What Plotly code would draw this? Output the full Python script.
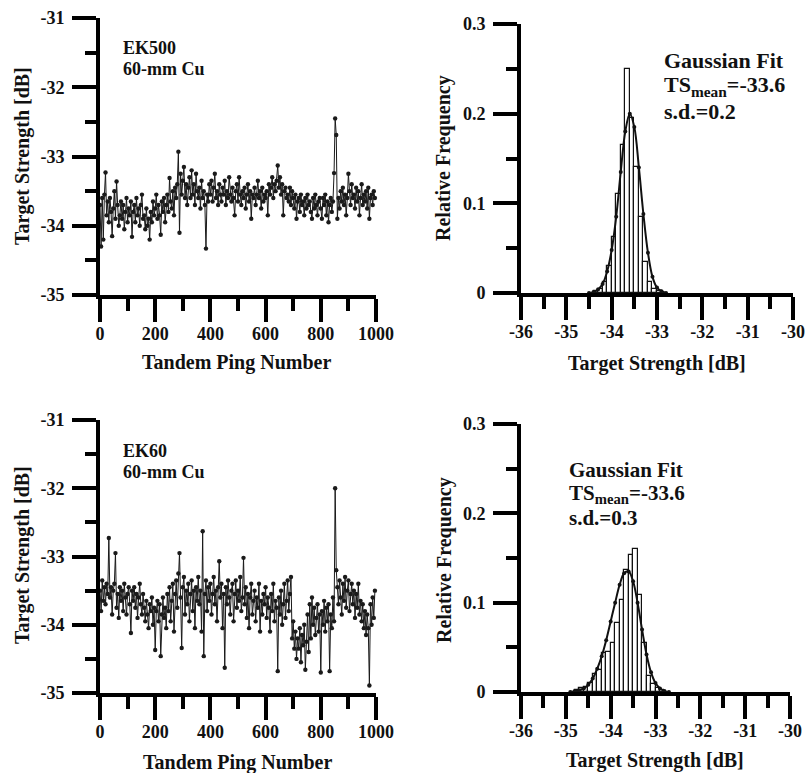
import plotly.graph_objects as go

# ---------------- data ----------------
ping = list(range(0, 1000, 4))

ek500_ts = [
    -33.70, -34.30, -33.60, -34.20, -33.55, -33.23, -33.85, -33.65, -33.95, -33.60,
    -33.80, -34.15, -33.75, -33.50, -33.90, -33.36, -33.70, -34.00, -33.85, -33.65,
    -33.90, -33.70, -34.05, -33.80, -33.60, -33.95, -33.75, -33.85, -33.65, -34.16,
    -33.80, -33.70, -33.95, -33.60, -33.85, -33.75, -34.00, -33.70, -33.55, -33.90,
    -33.85, -34.05, -33.75, -34.00, -33.90, -34.20, -33.80, -33.95, -33.65, -33.85,
    -33.75, -33.55, -33.90, -33.70, -33.85, -34.13, -33.65, -33.80, -33.60, -33.95,
    -33.70, -33.55, -33.80, -33.31, -33.65, -33.75, -33.50, -33.85, -33.45, -33.60,
    -33.40, -32.93, -34.10, -33.25, -33.55, -33.35, -33.15, -33.60, -33.40, -33.70,
    -33.45, -33.30, -33.60, -33.20, -33.55, -33.40, -33.70, -33.25, -33.50, -33.60,
    -33.45, -33.75, -33.35, -33.60, -33.50, -33.70, -34.33, -33.55, -33.65, -33.40,
    -33.55, -33.35, -33.65, -33.45, -33.25, -33.60, -33.50, -33.70, -33.40, -33.55,
    -33.65, -33.45, -33.55, -33.35, -33.70, -33.50, -33.60, -33.30, -33.55, -33.65,
    -33.45, -33.60, -33.85, -33.50, -33.40, -33.65, -33.30, -33.55, -33.70, -33.50,
    -33.60, -33.45, -33.75, -33.55, -33.40, -33.65, -33.50, -33.90, -33.55, -33.60,
    -33.45, -33.70, -33.55, -33.35, -33.60, -33.50, -33.75, -33.45, -33.65, -33.55,
    -33.60, -33.50, -33.85, -33.40, -33.55, -33.45, -33.30, -33.60, -33.40, -33.50,
    -33.35, -33.13, -33.45, -33.30, -33.55, -33.40, -33.85, -33.50, -33.45, -33.60,
    -33.55, -33.65, -33.45, -33.70, -33.50, -33.60, -33.75, -33.55, -33.90, -33.65,
    -33.60, -33.80, -33.55, -33.70, -33.65, -33.85, -33.60, -33.75, -33.55, -33.70,
    -33.65, -33.80, -33.90, -33.60, -33.75, -33.55, -33.70, -33.85, -33.65, -33.60,
    -33.75, -33.90, -33.60, -33.70, -33.55, -33.85, -33.65, -33.95, -33.70, -33.60,
    -33.80, -33.65, -33.24, -32.45, -32.69, -33.90, -33.60, -33.75, -33.50, -33.65,
    -33.45, -33.70, -33.55, -33.85, -33.60, -33.25, -33.50, -33.70, -33.40, -33.60,
    -33.55, -33.75, -33.45, -33.65, -33.50, -33.85, -33.60, -33.40, -33.70, -33.55,
    -33.65, -33.50, -33.75, -33.45, -33.90, -33.60, -33.55, -33.70, -33.50, -33.60,
]

ek60_ts = [
    -33.50, -33.80, -33.35, -33.65, -33.45, -33.70, -33.40, -33.55, -32.73, -33.60,
    -33.45, -33.85, -33.50, -33.40, -32.95, -33.75, -33.55, -33.90, -33.45, -33.65,
    -33.50, -33.80, -33.40, -33.60, -33.85, -33.55, -33.45, -33.70, -34.12, -33.50,
    -33.65, -33.45, -33.75, -33.55, -33.90, -33.60, -33.40, -33.70, -33.85, -33.55,
    -33.75, -33.95, -33.65, -33.85, -34.05, -33.70, -33.80, -33.60, -34.00, -33.75,
    -34.37, -33.80, -33.65, -33.95, -33.70, -34.46, -33.85, -33.60, -33.90, -33.75,
    -34.05, -33.55, -33.80, -33.45, -33.95, -33.65, -33.40, -34.10, -33.55, -33.35,
    -33.75, -33.25, -32.95, -33.60, -34.34, -33.45, -33.30, -33.85, -33.50, -33.70,
    -33.40, -33.95, -33.55, -33.35, -33.80, -33.50, -34.05, -33.45, -33.65, -33.30,
    -33.70, -33.50, -34.10, -32.63, -34.46, -33.55, -33.35, -33.80, -33.45, -33.65,
    -33.40, -33.85, -33.55, -33.30, -33.70, -33.50, -33.95, -33.45, -33.07, -33.60,
    -33.40, -34.05, -33.55, -34.63, -33.45, -33.70, -33.35, -33.60, -33.85, -33.50,
    -33.40, -33.95, -33.55, -33.35, -33.75, -33.50, -33.65, -33.30, -33.80, -33.60,
    -33.02, -33.70, -33.45, -33.90, -33.55, -34.05, -33.60, -33.40, -33.85, -33.65,
    -33.50, -33.95, -33.60, -33.75, -33.40, -34.10, -33.65, -33.85, -33.55, -33.70,
    -33.45, -33.90, -33.60, -33.75, -34.10, -33.55, -33.80, -33.40, -33.95, -33.65,
    -33.75, -34.68, -33.60, -33.85, -33.50, -34.00, -33.70, -33.40, -33.90, -33.65,
    -33.35, -33.80, -33.55, -33.30, -34.20, -33.95, -34.35, -34.10, -34.50, -34.20,
    -34.35, -34.05, -34.55, -34.15, -34.30, -34.00, -34.66, -34.25, -33.85, -34.40,
    -33.70, -34.20, -33.60, -34.00, -33.75, -34.15, -33.90, -33.70, -34.10, -33.85,
    -34.70, -33.80, -34.00, -33.65, -34.10, -33.75, -33.95, -33.70, -34.68, -33.85,
    -34.05, -33.60, -33.95, -32.00, -33.20, -33.45, -33.70, -33.35, -33.60, -33.85,
    -33.40, -33.65, -33.30, -33.75, -33.50, -33.35, -33.80, -33.55, -33.40, -33.70,
    -33.50, -33.90, -33.55, -33.75, -33.40, -33.85, -33.65, -33.95, -33.70, -34.05,
    -33.80, -34.15, -33.85, -34.05, -34.89, -33.70, -34.00, -33.60, -33.90, -33.50,
]

bins500 = [-34.35, -34.25, -34.15, -34.05, -33.95, -33.85, -33.75, -33.65,
           -33.55, -33.45, -33.35, -33.25, -33.15, -33.05, -32.95]
freq500 = [0.002, 0.005, 0.012, 0.030, 0.062, 0.110, 0.165, 0.250,
           0.195, 0.140, 0.085, 0.035, 0.012, 0.005, 0.002]
fitx500 = [-34.5, -34.4, -34.3, -34.2, -34.1, -34.0, -33.9, -33.8, -33.7,
           -33.6, -33.5, -33.4, -33.3, -33.2, -33.1, -33.0, -32.9, -32.8]
fity500 = [0.000, 0.001, 0.004, 0.010, 0.024, 0.048, 0.085, 0.135, 0.180,
           0.200, 0.185, 0.140, 0.088, 0.045, 0.018, 0.006, 0.002, 0.000]

bins60 = [-34.75, -34.65, -34.55, -34.45, -34.35, -34.25, -34.15, -34.05, -33.95, -33.85,
          -33.75, -33.65, -33.55, -33.45, -33.35, -33.25, -33.15, -33.05, -32.95, -32.85]
freq60 = [0.002, 0.004, 0.006, 0.010, 0.020, 0.025, 0.044, 0.045, 0.055, 0.077,
          0.103, 0.137, 0.153, 0.160, 0.109, 0.055, 0.018, 0.009, 0.004, 0.002]
fitx60 = [-34.9, -34.8, -34.7, -34.6, -34.5, -34.4, -34.3, -34.2, -34.1, -34.0, -33.9,
          -33.8, -33.7, -33.6, -33.5, -33.4, -33.3, -33.2, -33.1, -33.0, -32.9, -32.8, -32.7]
fity60 = [0.000, 0.001, 0.002, 0.004, 0.008, 0.015, 0.026, 0.040, 0.058, 0.079, 0.100,
          0.120, 0.133, 0.135, 0.124, 0.100, 0.070, 0.042, 0.022, 0.010, 0.004, 0.001, 0.000]

ts_ticks = [-35, -34, -33, -32, -31]
ts_ticktext = ["-35", "-34", "-33", "-32", "-31"]
ts_minor = [-34.5, -33.5, -32.5, -31.5]
ping_ticks = [0, 200, 400, 600, 800, 1000]
ping_minor = [100, 300, 500, 700, 900]
hx_ticks = [-36, -35, -34, -33, -32, -31, -30]
hx_ticktext = ["-36", "-35", "-34", "-33", "-32", "-31", "-30"]
hx_minor = [-35.5, -34.5, -33.5, -32.5, -31.5, -30.5]
hy_ticks = [0, 0.1, 0.2, 0.3]
hy_ticktext = ["0", "0.1", "0.2", "0.3"]
hy_minor = [0.05, 0.15, 0.25]

# ---------------- figure ----------------
W, H = 805, 773
FONT = "Liberation Serif"
INK = "#000000"

def fx(px):
    return px / W

def fy(py):
    return 1 - py / H

fig = go.Figure()

# time series
for xs, ys, xa, ya in [(ping, ek500_ts, "x", "y"), (ping, ek60_ts, "x3", "y3")]:
    fig.add_trace(go.Scatter(x=xs, y=ys, mode="lines+markers", xaxis=xa, yaxis=ya,
                             line=dict(color="#1a1a1a", width=1),
                             marker=dict(size=4.4, color="#1a1a1a"), cliponaxis=False))

# histograms
for bins, freq, fxs, fys, xa, ya in [(bins500, freq500, fitx500, fity500, "x2", "y2"),
                                     (bins60, freq60, fitx60, fity60, "x4", "y4")]:
    fig.add_trace(go.Bar(x=bins, y=freq, width=0.1, xaxis=xa, yaxis=ya,
                         marker=dict(color="white", line=dict(color="#111111", width=1.2))))
    fig.add_trace(go.Scatter(x=fxs, y=fys, mode="lines+markers", xaxis=xa, yaxis=ya,
                             line=dict(color="#111111", width=2, shape="spline"),
                             marker=dict(size=4, color="#111111")))

tickfont = dict(family=FONT, size=18, color="#111111", weight="bold")

def axis(domain, rng, tv, tt, minor, anchor, major_len=23, minor_len=11, standoff=5):
    return dict(domain=domain, range=rng, anchor=anchor, showline=True, linewidth=4,
                linecolor=INK, ticks="outside", ticklen=major_len, tickwidth=4,
                tickcolor=INK, tickmode="array", tickvals=tv, ticktext=tt,
                tickfont=tickfont, showgrid=False, zeroline=False, fixedrange=True,
                automargin=False, layer="above traces",
                minor=dict(tickmode="array", tickvals=minor, ticks="outside",
                           ticklen=minor_len, tickwidth=4, tickcolor=INK, showgrid=False),
                ticklabelstandoff=standoff)

layout = dict(
    template="none",
    width=W, height=H, margin=dict(l=0, r=0, t=0, b=0, autoexpand=False),
    paper_bgcolor="white", plot_bgcolor="white", showlegend=False,
    bargap=0,
    xaxis=axis([fx(100), fx(376)], [0, 1000], ping_ticks, [str(v) for v in ping_ticks],
               ping_minor, "y", 23, 12, -4),
    yaxis=axis([fy(295), fy(18)], [-35, -31], ts_ticks, ts_ticktext, ts_minor, "x", 24, 11, 4),
    xaxis2=axis([fx(521), fx(793)], [-36, -30], hx_ticks, hx_ticktext, hx_minor, "y2", 23, 12, -4),
    yaxis2=axis([fy(293), fy(24)], [0, 0.3], hy_ticks, hy_ticktext, hy_minor, "x2", 24, 11, 4),
    xaxis3=axis([fx(100), fx(376)], [0, 1000], ping_ticks, [str(v) for v in ping_ticks],
                ping_minor, "y3", 23, 12, -4),
    yaxis3=axis([fy(693), fy(420)], [-35, -31], ts_ticks, ts_ticktext, ts_minor, "x3", 24, 11, 4),
    xaxis4=axis([fx(521), fx(790)], [-36, -30], hx_ticks, hx_ticktext, hx_minor, "y4", 23, 12, -4),
    yaxis4=axis([fy(692), fy(424)], [0, 0.3], hy_ticks, hy_ticktext, hy_minor, "x4", 24, 11, 4),
)

TXT = "#111111"
titlefont = dict(family=FONT, size=20, color=TXT, weight="bold")
labfont = dict(family=FONT, size=18, color=TXT, weight="bold")
fitfont_top = dict(family=FONT, size=22, color=TXT, weight="bold")
fitfont_bot = dict(family=FONT, size=21, color=TXT, weight="bold")

ann = []
def add(text, x, y, font, angle=0, xanchor="center"):
    ann.append(dict(text=text, x=fx(x), y=fy(y), xref="paper", yref="paper",
                    showarrow=False, font=font, textangle=angle,
                    xanchor=xanchor, yanchor="middle"))

# axis titles
add("Tandem Ping Number", 236, 362, titlefont)
add("Tandem Ping Number", 237, 762, titlefont)
add("Target Strength [dB]", 657, 363, titlefont)
add("Target Strength [dB]", 655, 760, titlefont)
add("Target Strength [dB]", 22, 156, titlefont, angle=-90)
add("Target Strength [dB]", 22, 555, titlefont, angle=-90)
add("Relative Frequency", 443, 158, titlefont, angle=-90)
add("Relative Frequency", 444, 560, titlefont, angle=-90)

# panel labels
add("EK500", 121, 48, labfont, xanchor="left")
add("60-mm Cu", 121, 69, labfont, xanchor="left")
add("EK60", 121, 451, labfont, xanchor="left")
add("60-mm Cu", 121, 472, labfont, xanchor="left")

add("Gaussian Fit", 662, 60, fitfont_top, xanchor="left")
add("TS<sub>mean</sub>=-33.6", 662, 86, fitfont_top, xanchor="left")
add("s.d.=0.2", 662, 112, fitfont_top, xanchor="left")
add("Gaussian Fit", 567, 470, fitfont_bot, xanchor="left")
add("TS<sub>mean</sub>=-33.6", 567, 494, fitfont_bot, xanchor="left")
add("s.d.=0.3", 567, 518, fitfont_bot, xanchor="left")

layout["annotations"] = ann
fig.update_layout(**layout)
fig.write_html("out.html")
